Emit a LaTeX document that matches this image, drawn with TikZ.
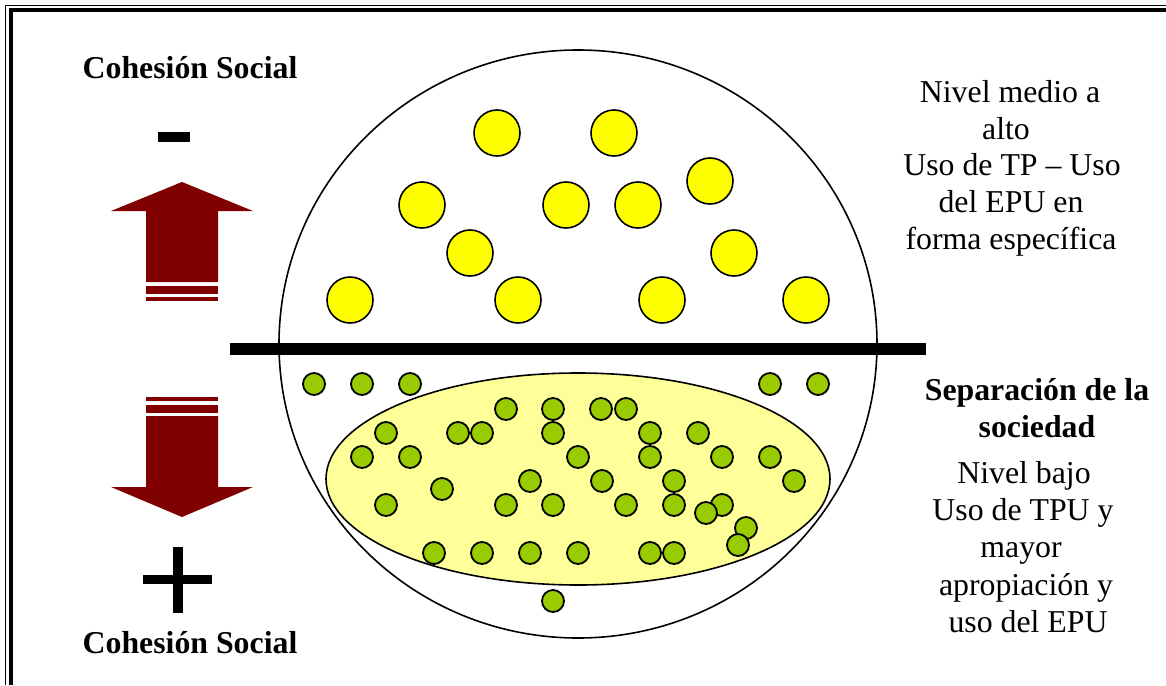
\documentclass[tikz,border=0pt]{standalone}
\usepackage{fontspec}
\setmainfont{Liberation Serif}
\definecolor{darkred}{HTML}{800000}
\definecolor{ydot}{HTML}{FFFF00}
\definecolor{gdot}{HTML}{99CC00}
\definecolor{lightyel}{HTML}{FFFF99}
\tikzset{
  ydotstyle/.style={circle, draw=black, line width=1.6pt, fill=ydot, minimum size=46pt, inner sep=0pt},
  gdotstyle/.style={circle, draw=black, line width=1.8pt, fill=gdot, minimum size=22pt, inner sep=0pt},
  reglabel/.style={anchor=base, inner sep=0pt, font=\fontsize{31.8}{36.5}\selectfont},
  boldlabel/.style={anchor=base, inner sep=0pt, font=\fontsize{31.8}{36.5}\selectfont\bfseries},
  arrowfill/.style={fill=darkred, draw=none},
}
\begin{document}
\begin{tikzpicture}[x=1pt,y=-1pt]
\useasboundingbox (0,0) rectangle (1166,685);
\fill[white] (0,0) rectangle (1166,685);
% frame
\draw[line width=1.5pt] (5.5,685) -- (5.5,5.5) -- (1166,5.5);
\draw[line width=4pt] (11,685) -- (11,10) -- (1166,10);

% big circle
\draw[line width=1.6pt] (578,344) ellipse [x radius=299, y radius=294];
% yellow ellipse
\draw[line width=1.6pt, fill=lightyel] (578,479) ellipse [x radius=252, y radius=106];
% separator bar
\coordinate (barL) at (230,349);
\coordinate (barR) at (926,349);
\draw[line width=12pt] (barL) -- (barR);

% yellow dots
\foreach \x/\y [count=\i] in {497/133,614/133,422/205,566/205,638/205,710/181,470/253,734/253,350/300,518/300,662/300,806/300}
  \node[ydotstyle] (y\i) at (\x,\y) {};

% green dots
\foreach \x/\y [count=\i] in {314/384,362/384,410/384,770/384,818/384,553/601,
  506/409,553/409,601/409,626/409,
  386/433,458/433,482/433,553/433,650/433,698/433,
  362/457,410/457,578/457,650/457,722/457,770/457,
  530/481,602/481,674/481,794/481,442/489,
  386/505,506/505,553/505,626/505,674/505,722/505,706/513,
  746/528,738/545,
  434/553,482/553,530/553,578/553,650/553,674/553}
  \node[gdotstyle] (g\i) at (\x,\y) {};

% up arrow
\fill[arrowfill] (182,182) -- (253,211) -- (218,211) -- (218,282) -- (146,282) -- (146,211) -- (111,211) -- cycle;
\fill[arrowfill] (146,286) rectangle (218,294);
\fill[arrowfill] (146,297) rectangle (218,301);
% down arrow
\fill[arrowfill] (146,397) rectangle (218,401);
\fill[arrowfill] (146,405) rectangle (218,413);
\fill[arrowfill] (146,416) -- (218,416) -- (218,487) -- (253,487) -- (182,517) -- (111,487) -- (146,487) -- cycle;

% minus and plus
\fill[black] (158,132) rectangle (190,142);
\fill[black] (143,575) rectangle (212,584);
\fill[black] (173,547) rectangle (183,613);

% labels
\node[boldlabel] (cs1) at (190,78) {Cohesión Social};
\node[boldlabel] (cs2) at (190,653) {Cohesión Social};

\node[reglabel] (t1) at (1010,102) {Nivel medio a};
\node[reglabel] (t2) at (1006,139) {alto};
\node[reglabel] (t3) at (1012,175) {Uso de TP – Uso};
\node[reglabel] (t4) at (1011,212) {del EPU en};
\node[reglabel] (t5) at (1011,249) {forma específica};

\node[boldlabel] (s1) at (1037,400) {Separación de la};
\node[boldlabel] (s2) at (1037,437) {sociedad};
\node[reglabel] (b1) at (1024,483) {Nivel bajo};
\node[reglabel] (b2) at (1023,520) {Uso de TPU y};
\node[reglabel] (b3) at (1021,557) {mayor};
\node[reglabel] (b4) at (1026,595) {apropiación y};
\node[reglabel] (b5) at (1028,632) {uso del EPU};
\end{tikzpicture}
\end{document}
